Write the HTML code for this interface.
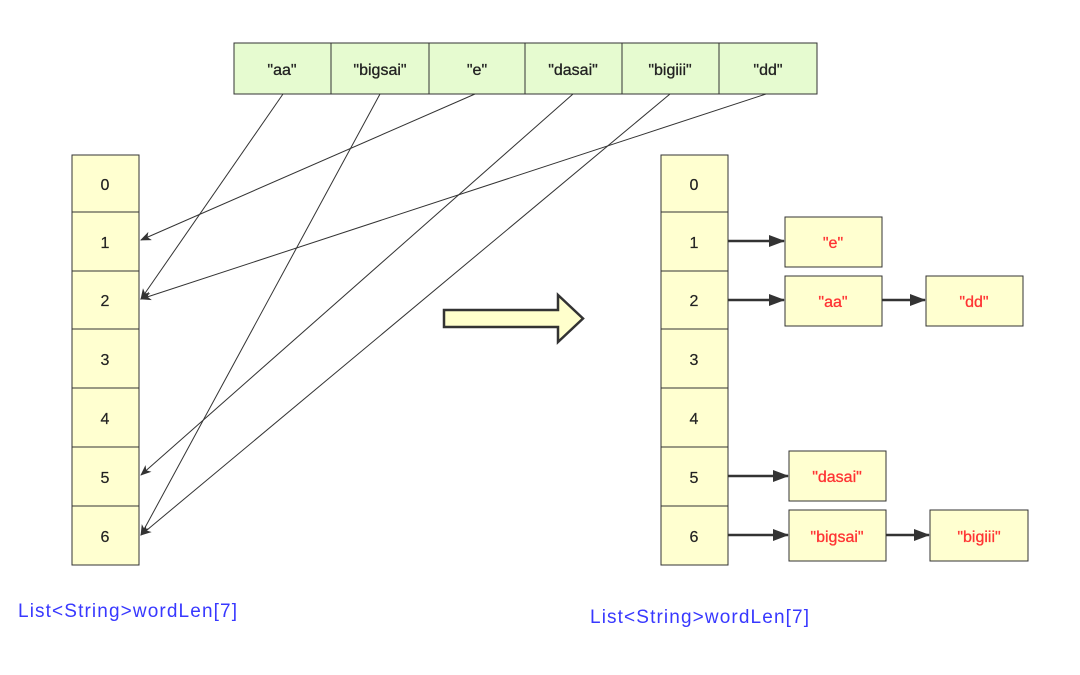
<!DOCTYPE html>
<html><head><style>body{margin:0;background:#fff}svg{display:block}</style></head><body>
<svg width="1080" height="675" viewBox="0 0 1080 675" xmlns="http://www.w3.org/2000/svg" font-family="Liberation Sans, sans-serif">
<defs>
<marker id="a" markerWidth="11" markerHeight="9" refX="10" refY="4.5" orient="auto" markerUnits="userSpaceOnUse"><path d="M0,0 L11,4.5 L0,9 L3,4.5z" fill="#333"/></marker>
<marker id="b" markerWidth="16" markerHeight="12" refX="15" refY="6" orient="auto" markerUnits="userSpaceOnUse"><path d="M0,0 L16,6 L0,12z" fill="#333"/></marker>
</defs>
<g stroke="#333" stroke-width="1" fill="#e6fbd0">
<rect x="234" y="43" width="97" height="51"/><rect x="331" y="43" width="98" height="51"/><rect x="429" y="43" width="96" height="51"/><rect x="525" y="43" width="97" height="51"/><rect x="622" y="43" width="97" height="51"/><rect x="719" y="43" width="98" height="51"/>
</g>
<g font-size="16" text-anchor="middle" fill="#222" stroke="#222" stroke-width="0.3">
<text x="282" y="75">"aa"</text><text x="380" y="75">"bigsai"</text><text x="477" y="75">"e"</text><text x="573" y="75">"dasai"</text><text x="670" y="75">"bigiii"</text><text x="768" y="75">"dd"</text>
</g>
<g stroke="#333" stroke-width="1" fill="#ffffd0">
<rect x="72" y="155" width="67" height="57"/><rect x="72" y="212" width="67" height="59"/><rect x="72" y="271" width="67" height="58"/><rect x="72" y="329" width="67" height="59"/><rect x="72" y="388" width="67" height="59"/><rect x="72" y="447" width="67" height="59"/><rect x="72" y="506" width="67" height="59"/>
<rect x="661" y="155" width="67" height="57"/><rect x="661" y="212" width="67" height="59"/><rect x="661" y="271" width="67" height="58"/><rect x="661" y="329" width="67" height="59"/><rect x="661" y="388" width="67" height="59"/><rect x="661" y="447" width="67" height="59"/><rect x="661" y="506" width="67" height="59"/>
</g>
<g font-size="16" text-anchor="middle" fill="#222" stroke="#222" stroke-width="0.2">
<text x="105" y="190">0</text><text x="105" y="248">1</text><text x="105" y="306">2</text><text x="105" y="365">3</text><text x="105" y="424">4</text><text x="105" y="483">5</text><text x="105" y="542">6</text>
<text x="694" y="190">0</text><text x="694" y="248">1</text><text x="694" y="306">2</text><text x="694" y="365">3</text><text x="694" y="424">4</text><text x="694" y="483">5</text><text x="694" y="542">6</text>
</g>
<g stroke="#333" stroke-width="1" marker-end="url(#a)">
<line x1="283" y1="94" x2="141" y2="299"/>
<line x1="380" y1="94" x2="141" y2="535"/>
<line x1="475" y1="94" x2="141" y2="240"/>
<line x1="573" y1="94" x2="141" y2="475"/>
<line x1="670" y1="94" x2="141" y2="535"/>
<line x1="766" y1="94" x2="141" y2="299"/>
</g>
<path d="M444,310 L558,310 L558,295 L583,318.5 L558,342 L558,327 L444,327z" fill="#ffffcc" stroke="#333" stroke-width="2.5" stroke-linejoin="miter"/>
<g stroke="#333" stroke-width="1" fill="#ffffd0">
<rect x="785" y="217" width="97" height="50"/><rect x="785" y="276" width="97" height="50"/><rect x="926" y="276" width="97" height="50"/>
<rect x="789" y="451" width="97" height="50"/><rect x="789" y="510" width="97" height="51"/><rect x="930" y="510" width="98" height="51"/>
</g>
<g font-size="16" text-anchor="middle" fill="#ff3333" stroke="#ff3333" stroke-width="0.3">
<text x="833" y="248">"e"</text><text x="833" y="307">"aa"</text><text x="974" y="307">"dd"</text>
<text x="837" y="482">"dasai"</text><text x="837" y="542">"bigsai"</text><text x="979" y="542">"bigiii"</text>
</g>
<g stroke="#333" stroke-width="2.5" marker-end="url(#b)">
<line x1="728" y1="241" x2="784" y2="241"/>
<line x1="728" y1="300" x2="784" y2="300"/>
<line x1="882" y1="300" x2="925" y2="300"/>
<line x1="728" y1="476" x2="788" y2="476"/>
<line x1="728" y1="535" x2="788" y2="535"/>
<line x1="886" y1="535" x2="929" y2="535"/>
</g>
<g font-size="19" fill="#3838ff">
<text x="18" y="617" textLength="219" lengthAdjust="spacing">List&lt;String&gt;wordLen[7]</text>
<text x="590" y="623" textLength="219" lengthAdjust="spacing">List&lt;String&gt;wordLen[7]</text>
</g>
</svg>
</body></html>
